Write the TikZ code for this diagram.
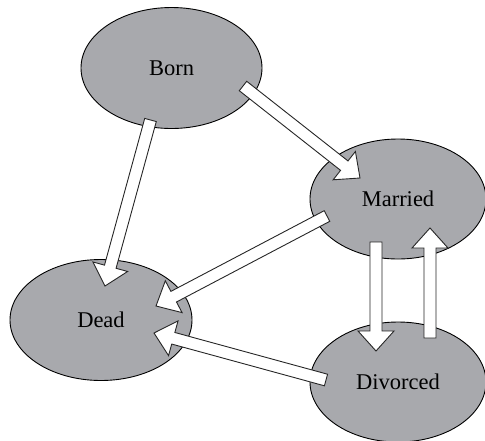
\documentclass[tikz,border=0pt]{standalone}
\usepackage{fontspec}
\setmainfont{Liberation Serif}
\usetikzlibrary{shapes.geometric,calc}
\definecolor{statefill}{RGB}{168,169,173}
\tikzset{
  state/.style={ellipse, draw=black, line width=0.9pt, fill=statefill, inner sep=0pt,
    minimum width=181pt, minimum height=121pt, font=\fontsize{22.5}{26}\selectfont},
  blockarrow/.style={draw=black!85, fill=white, line width=0.9pt, line join=miter}
}
\newcommand\blockarrow[2]{%
  \coordinate (ba-base) at ($(#2)!20pt!(#1)$);
  \draw[blockarrow] ($(#1)!6pt!90:(#2)$) -- ($(ba-base)!6pt!-90:(#1)$) -- ($(ba-base)!18pt!-90:(#1)$) -- (#2)
    -- ($(ba-base)!18pt!90:(#1)$) -- ($(ba-base)!6pt!90:(#1)$) -- ($(#1)!6pt!-90:(#2)$) -- cycle;
}
\begin{document}
\begin{tikzpicture}[x=1pt,y=-1pt]
\useasboundingbox (0,0) rectangle (485,440);
\clip (0,0) rectangle (485,440);
\node[state] (born) at (171.5,68) {Born};
\node[state, minimum width=176pt, minimum height=120pt] (married) at (398,199) {Married};
\node[state, minimum width=182pt] (dead) at (101,320) {Dead};
\node[state, minimum width=176pt, minimum height=120pt] (divorced) at (398,382) {Divorced};
% arrow end points
\coordinate (bdT) at (150.5,120); \coordinate (bdP) at (105,286);
\coordinate (bmT) at (243,86);    \coordinate (bmP) at (360,178);
\coordinate (mdT) at (327,216);   \coordinate (mdP) at (156,306);
\coordinate (vdT) at (326,380);   \coordinate (vdP) at (154,333);
\coordinate (mvT) at (376,242);   \coordinate (mvP) at (376,351);
\coordinate (vmT) at (430,338);   \coordinate (vmP) at (430,228);
\blockarrow{bdT}{bdP}
\blockarrow{bmT}{bmP}
\blockarrow{mdT}{mdP}
\blockarrow{vdT}{vdP}
\blockarrow{mvT}{mvP}
\blockarrow{vmT}{vmP}
\end{tikzpicture}
\end{document}
